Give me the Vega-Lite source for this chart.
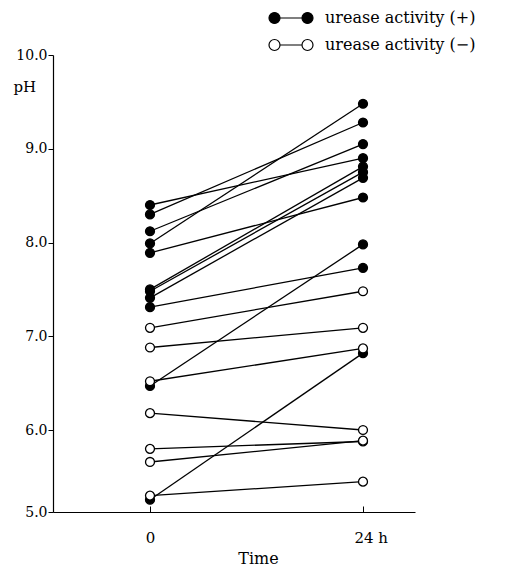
{
  "$schema": "https://vega.github.io/schema/vega-lite/v6.json",
  "width": 362,
  "height": 457,
  "autosize": {"type": "none"},
  "padding": {"left": 53, "top": 55, "right": 95, "bottom": 56},
  "background": "white",
  "config": {
    "view": {"stroke": null},
    "font": "DejaVu Serif",
    "axis": {
      "grid": false,
      "domainColor": "black",
      "domainWidth": 1.2,
      "tickColor": "black",
      "labelColor": "black",
      "titleColor": "black",
      "labelFont": "DejaVu Serif",
      "titleFont": "DejaVu Serif",
      "labelFontSize": 14,
      "titleFontSize": 16,
      "titleFontWeight": "normal"
    }
  },
  "data": {
    "values": [
      {"id": 1, "urease": "urease activity (+)", "time": 0, "ph": 8.40},
      {"id": 1, "urease": "urease activity (+)", "time": 24, "ph": 8.90},
      {"id": 2, "urease": "urease activity (+)", "time": 0, "ph": 8.30},
      {"id": 2, "urease": "urease activity (+)", "time": 24, "ph": 9.28},
      {"id": 3, "urease": "urease activity (+)", "time": 0, "ph": 8.12},
      {"id": 3, "urease": "urease activity (+)", "time": 24, "ph": 9.05},
      {"id": 4, "urease": "urease activity (+)", "time": 0, "ph": 7.99},
      {"id": 4, "urease": "urease activity (+)", "time": 24, "ph": 9.48},
      {"id": 5, "urease": "urease activity (+)", "time": 0, "ph": 7.89},
      {"id": 5, "urease": "urease activity (+)", "time": 24, "ph": 8.48},
      {"id": 6, "urease": "urease activity (+)", "time": 0, "ph": 7.50},
      {"id": 6, "urease": "urease activity (+)", "time": 24, "ph": 8.81},
      {"id": 7, "urease": "urease activity (+)", "time": 0, "ph": 7.48},
      {"id": 7, "urease": "urease activity (+)", "time": 24, "ph": 8.75},
      {"id": 8, "urease": "urease activity (+)", "time": 0, "ph": 7.41},
      {"id": 8, "urease": "urease activity (+)", "time": 24, "ph": 8.69},
      {"id": 9, "urease": "urease activity (+)", "time": 0, "ph": 7.31},
      {"id": 9, "urease": "urease activity (+)", "time": 24, "ph": 7.73},
      {"id": 10, "urease": "urease activity (+)", "time": 0, "ph": 6.47},
      {"id": 10, "urease": "urease activity (+)", "time": 24, "ph": 7.98},
      {"id": 11, "urease": "urease activity (+)", "time": 0, "ph": 5.15},
      {"id": 11, "urease": "urease activity (+)", "time": 24, "ph": 6.82},
      {"id": 12, "urease": "urease activity (−)", "time": 0, "ph": 7.09},
      {"id": 12, "urease": "urease activity (−)", "time": 24, "ph": 7.48},
      {"id": 13, "urease": "urease activity (−)", "time": 0, "ph": 6.88},
      {"id": 13, "urease": "urease activity (−)", "time": 24, "ph": 7.09},
      {"id": 14, "urease": "urease activity (−)", "time": 0, "ph": 6.52},
      {"id": 14, "urease": "urease activity (−)", "time": 24, "ph": 6.87},
      {"id": 15, "urease": "urease activity (−)", "time": 0, "ph": 6.18},
      {"id": 15, "urease": "urease activity (−)", "time": 24, "ph": 6.00},
      {"id": 16, "urease": "urease activity (−)", "time": 0, "ph": 5.77},
      {"id": 16, "urease": "urease activity (−)", "time": 24, "ph": 5.86},
      {"id": 17, "urease": "urease activity (−)", "time": 0, "ph": 5.61},
      {"id": 17, "urease": "urease activity (−)", "time": 24, "ph": 5.87},
      {"id": 18, "urease": "urease activity (−)", "time": 0, "ph": 5.20},
      {"id": 18, "urease": "urease activity (−)", "time": 24, "ph": 5.37}
    ]
  },
  "encoding": {
    "x": {
      "field": "time",
      "type": "quantitative",
      "scale": {"domain": [-10.93, 29.86], "nice": false, "zero": false},
      "axis": {
        "values": [0, 24],
        "labelExpr": "datum.value == 24 ? '24 h' : '0'",
        "labelAlign": {"condition": {"test": "datum.value == 24", "value": "left"}, "value": "center"},
        "labelOffset": {"condition": {"test": "datum.value == 24", "value": -9}, "value": 0},
        "tickSize": -6,
        "labelPadding": 24,
        "labelFontSize": 15,
        "title": "Time",
        "titleX": 205,
        "titleY": 46,
        "titleBaseline": "middle"
      }
    },
    "y": {
      "field": "ph",
      "type": "quantitative",
      "scale": {"type": "linear", "domain": [5, 6, 10], "range": [457, 375, 0], "nice": false, "zero": false},
      "axis": {
        "values": [5, 6, 7, 8, 9, 10],
        "format": ".1f",
        "tickSize": 5,
        "labelPadding": 1,
        "title": "pH",
        "titleAngle": 0,
        "titleX": -40,
        "titleY": 31,
        "titleAlign": "left",
        "titleBaseline": "middle",
        "titleFontSize": 15
      }
    }
  },
  "layer": [
    {
      "mark": {"type": "line", "color": "black", "strokeWidth": 1.3},
      "encoding": {"detail": {"field": "id", "type": "nominal"}}
    },
    {
      "mark": {"type": "point", "filled": true, "size": 80, "stroke": "black", "strokeWidth": 1.3, "opacity": 1},
      "encoding": {
        "fill": {
          "field": "urease",
          "type": "nominal",
          "scale": {"domain": ["urease activity (+)", "urease activity (−)"], "range": ["black", "white"]},
          "legend": {
            "title": null,
            "orient": "none",
            "legendX": 226,
            "legendY": -49,
            "symbolType": "M-2,0A0.5,0.5,0,1,1,-1,0A0.5,0.5,0,1,1,-2,0ZM-1,0L1,0M1,0A0.5,0.5,0,1,1,2,0A0.5,0.5,0,1,1,1,0Z",
            "symbolSize": 484,
            "symbolStrokeColor": "black",
            "symbolStrokeWidth": 1.2,
            "symbolOpacity": 1,
            "labelOffset": 22,
            "labelFont": "DejaVu Serif",
            "labelFontSize": 16,
            "labelColor": "black",
            "labelLimit": 300,
            "rowPadding": 7,
            "padding": 0
          }
        }
      }
    }
  ]
}
